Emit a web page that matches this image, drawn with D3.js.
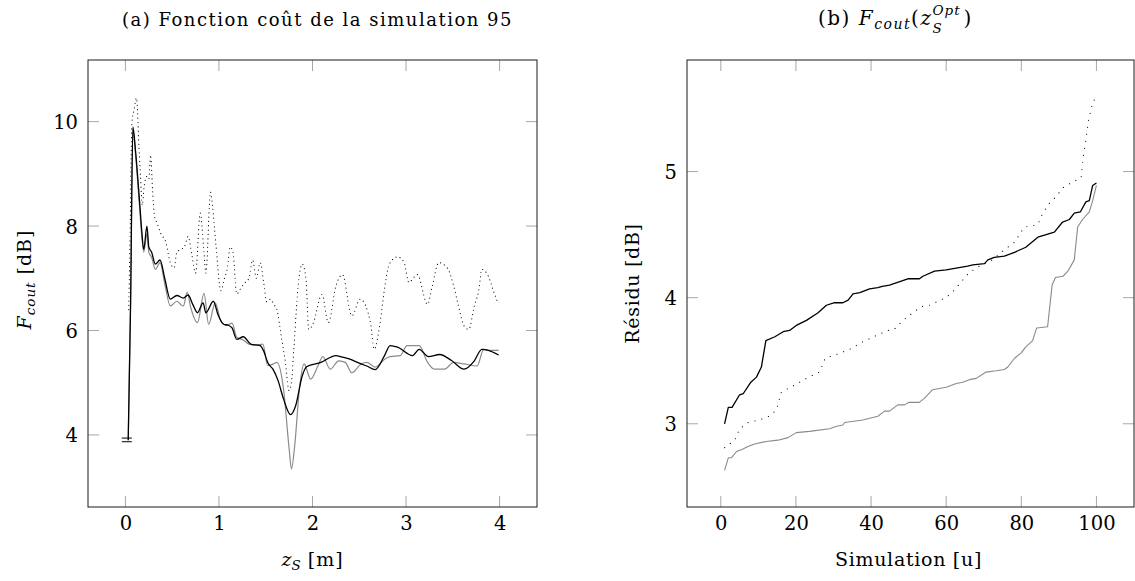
<!DOCTYPE html>
<html><head><meta charset="utf-8">
<script src="https://cdn.jsdelivr.net/npm/d3@7"></script>
<style>
body{margin:0;background:#fff;}
svg{display:block;}
text{font-family:"DejaVu Serif","Liberation Serif",serif;fill:#000;}
</style></head>
<body>
<svg id="chart" width="1135" height="581"></svg>
<script>
// ---------- Panel (a): cost function of simulation 95 ----------
const zBlack = [0.03,0.055,0.08,0.107,0.15,0.175,0.196,0.23,0.25,0.28,0.32,0.37,0.42,0.48,0.55,0.62,0.67,0.72,0.77,0.83,0.86,0.94,0.99,1.05,1.1,1.14,1.19,1.26,1.34,1.44,1.48,1.52,1.58,1.63,1.69,1.765,1.82,1.89,1.94,2.09,2.25,2.32,2.4,2.48,2.58,2.67,2.77,2.83,2.91,3.07,3.14,3.24,3.36,3.49,3.62,3.73,3.81,3.88,3.99];
const vBlack = [3.9,6.5,9.9,9.46,8.5,7.9,7.55,8.0,7.6,7.5,7.27,7.35,7.0,6.6,6.67,6.62,6.68,6.5,6.34,6.53,6.34,6.56,6.3,6.12,6.1,6.05,5.83,5.88,5.74,5.71,5.6,5.39,5.25,5.05,4.69,4.39,4.56,5.13,5.31,5.39,5.52,5.49,5.45,5.39,5.32,5.25,5.52,5.71,5.68,5.52,5.64,5.5,5.54,5.42,5.26,5.42,5.64,5.62,5.53];

const zGray = [0.03,0.055,0.08,0.107,0.15,0.196,0.23,0.25,0.28,0.32,0.37,0.42,0.48,0.55,0.59,0.62,0.66,0.70,0.77,0.84,0.89,0.96,1.02,1.08,1.14,1.19,1.26,1.32,1.40,1.47,1.52,1.58,1.62,1.69,1.75,1.775,1.81,1.86,1.91,1.98,2.06,2.11,2.19,2.28,2.35,2.42,2.52,2.58,2.67,2.78,2.83,2.94,3.01,3.14,3.23,3.30,3.41,3.51,3.62,3.76,3.83,3.90,3.99];
const vGray = [3.9,6.5,9.85,9.4,8.4,7.5,7.85,7.5,7.4,7.17,7.3,6.9,6.47,6.56,6.5,6.47,6.73,6.43,6.15,6.71,6.12,6.53,6.18,6.1,6.14,5.87,5.82,5.74,5.72,5.74,5.33,5.36,5.39,4.88,3.74,3.35,3.8,4.88,5.36,5.07,5.33,5.5,5.26,5.42,5.39,5.19,5.36,5.39,5.30,5.46,5.5,5.52,5.71,5.71,5.39,5.26,5.26,5.39,5.36,5.32,5.64,5.62,5.62];

const zDot = [0.035,0.05,0.07,0.09,0.118,0.13,0.14,0.16,0.18,0.2,0.23,0.25,0.27,0.29,0.31,0.34,0.38,0.43,0.48,0.52,0.55,0.59,0.63,0.67,0.71,0.75,0.8,0.84,0.86,0.91,0.93,0.97,1.02,1.06,1.09,1.12,1.15,1.19,1.23,1.27,1.32,1.36,1.40,1.44,1.48,1.51,1.55,1.59,1.62,1.66,1.71,1.75,1.78,1.8,1.85,1.89,1.93,1.96,2.01,2.1,2.17,2.25,2.32,2.42,2.51,2.62,2.66,2.71,2.78,2.82,2.91,2.98,3.03,3.12,3.23,3.28,3.35,3.44,3.51,3.56,3.62,3.67,3.73,3.78,3.81,3.88,3.94,3.975];
const vDot = [6.4,7.8,10.0,10.2,10.45,10.2,9.7,9.0,8.4,8.75,8.95,8.9,9.36,8.7,8.2,8.05,7.85,7.7,7.3,7.2,7.5,7.55,7.6,7.8,7.45,7.1,8.25,7.5,7.1,8.65,8.4,7.6,6.76,7.0,7.2,7.6,7.5,6.7,6.8,6.9,7.0,7.35,7.0,7.3,6.9,6.55,6.6,6.49,6.4,5.96,5.39,4.85,5.1,5.64,6.92,7.27,7.0,6.02,6.15,6.69,6.15,6.85,7.07,6.28,6.6,6.15,5.64,6.0,6.92,7.27,7.41,7.3,6.92,7.07,6.5,6.85,7.3,7.2,6.85,6.47,6.09,6.02,6.47,6.79,7.17,7.04,6.73,6.56];

const startBarsZ = 0.015;
const startBarsV = [3.87, 3.94];

const xTicksA = [0,1,2,3,4];
const yTicksA = [4,6,8,10];

// ---------- Panel (b): F_cout(z_S^Opt) over simulations ----------
const sBlack = [1,2,3,5,6,8,9.5,10.8,12,14.4,16.6,18.3,20.1,22.8,25.9,28.1,30.3,32.5,33.9,35.2,37,39.6,41.8,43,44.9,49.8,52.9,53.8,56.9,60,65.7,67.1,70.2,71.1,72.8,75.5,78.2,81.2,84.4,86.6,88.8,91,92.8,94.1,95.7,97.2,98.1,99,100];
const rBlack = [3.0,3.13,3.13,3.23,3.24,3.33,3.37,3.45,3.66,3.69,3.73,3.74,3.78,3.82,3.88,3.94,3.96,3.96,3.98,4.03,4.04,4.07,4.08,4.09,4.10,4.15,4.15,4.17,4.21,4.22,4.25,4.26,4.27,4.30,4.32,4.33,4.36,4.40,4.48,4.50,4.52,4.60,4.62,4.67,4.68,4.76,4.77,4.89,4.91];

const sDot = [1,3.7,5,7.3,10.3,12.9,14.8,16.1,19.2,22.8,26.3,27.8,30.8,34.3,37.8,41.4,44.5,46.2,48.5,51.1,53.4,55.6,58.3,60,62.2,64.4,66.2,68.8,72.3,75.5,78.2,80.8,83,84.4,85.7,87.5,89.2,91,93.2,95.9,96.5,97.2,97.9,99.1,100];
const rDot = [2.81,2.87,2.96,3.01,3.03,3.06,3.11,3.25,3.3,3.36,3.41,3.52,3.55,3.59,3.65,3.70,3.74,3.75,3.82,3.88,3.93,3.94,3.98,4.0,4.06,4.14,4.2,4.25,4.30,4.38,4.44,4.56,4.57,4.58,4.67,4.75,4.80,4.87,4.91,4.95,5.12,5.25,5.41,5.56,5.58];

const sGray = [1,2,2.8,4.2,5.9,7.2,9,12.1,15.2,17.9,20.1,23.6,29,30.8,32.5,33,37.8,41.8,43.6,44.9,47.1,48.9,50.1,52.8,54.1,56.4,60,62.7,64.4,66.2,68,70.6,73.3,75.5,76.4,78.2,79.9,81.2,83,84.1,87,88.2,89.1,91.1,92.4,94.1,95,96.3,98.1,99,100];
const rGray = [2.63,2.73,2.73,2.78,2.8,2.82,2.84,2.86,2.87,2.89,2.93,2.94,2.96,2.98,2.99,3.01,3.03,3.06,3.10,3.10,3.15,3.15,3.17,3.17,3.2,3.27,3.29,3.32,3.33,3.35,3.36,3.41,3.42,3.43,3.45,3.52,3.56,3.61,3.66,3.76,3.77,4.10,4.16,4.17,4.21,4.30,4.56,4.62,4.68,4.77,4.89];

const xTicksB = [0,20,40,60,80,100];
const yTicksB = [3,4,5];

// ---------- Drawing ----------
const svg = d3.select("#chart");
const TICK = 11;
const FS = 19.5;      // tick labels
const LFS = 19;       // axis labels
const TFS = 18;       // titles

function panel(cfg){
  const g = svg.append("g");
  const x = d3.scaleLinear().domain(cfg.xDomain).range([cfg.left, cfg.right]);
  const y = d3.scaleLinear().domain(cfg.yDomain).range([cfg.bottom, cfg.top]);

  const tk = g.append("g").attr("stroke","#a8a8a8").attr("stroke-width",1);
  cfg.xTicks.forEach(t=>{
    tk.append("line").attr("x1",x(t)).attr("x2",x(t)).attr("y1",cfg.bottom).attr("y2",cfg.bottom-TICK);
    tk.append("line").attr("x1",x(t)).attr("x2",x(t)).attr("y1",cfg.top).attr("y2",cfg.top+TICK);
  });
  cfg.yTicks.forEach(t=>{
    tk.append("line").attr("y1",y(t)).attr("y2",y(t)).attr("x1",cfg.left).attr("x2",cfg.left+TICK);
    tk.append("line").attr("y1",y(t)).attr("y2",y(t)).attr("x1",cfg.right).attr("x2",cfg.right-TICK);
  });

  const ax = d3.axisBottom(x).tickValues(cfg.xTicks).tickSize(0).tickPadding(0).tickFormat(d3.format("d"));
  const gx = g.append("g").attr("transform",`translate(0,${cfg.bottom+22.5})`).call(ax);
  gx.select(".domain").remove();
  gx.selectAll("text").attr("font-size",FS).attr("font-family",'"DejaVu Serif",serif').attr("dy",0);
  const ay = d3.axisLeft(y).tickValues(cfg.yTicks).tickSize(0).tickPadding(0).tickFormat(d3.format("d"));
  const gy = g.append("g").attr("transform",`translate(${cfg.left-10},0)`).call(ay);
  gy.select(".domain").remove();
  gy.selectAll("text").attr("font-size",FS).attr("font-family",'"DejaVu Serif",serif').attr("dy","0.36em");

  const clipId = "clip"+cfg.id;
  svg.append("clipPath").attr("id",clipId).append("rect")
     .attr("x",cfg.left).attr("y",cfg.top).attr("width",cfg.right-cfg.left).attr("height",cfg.bottom-cfg.top);
  const sg = g.append("g").attr("clip-path",`url(#${clipId})`);
  cfg.series.forEach(s=>{
    const pts = s.xs.map((v,i)=>[v,s.ys[i]]);
    const line = d3.line().x(d=>x(d[0])).y(d=>y(d[1])).curve(s.curve||d3.curveLinear);
    sg.append("path").datum(pts).attr("d",line).attr("fill","none")
      .attr("stroke",s.color).attr("stroke-width",s.width)
      .attr("stroke-linejoin","round")
      .attr("stroke-linecap",s.dash?"round":"butt")
      .attr("stroke-dasharray",s.dash||null);
  });

  g.append("rect").attr("x",cfg.left).attr("y",cfg.top).attr("width",cfg.right-cfg.left).attr("height",cfg.bottom-cfg.top)
   .attr("fill","none").attr("stroke","#1a1a1a").attr("stroke-width",1);
  return {g,x,y};
}

// Panel (a)
const A = panel({id:"a", left:88, right:537, top:60, bottom:507,
  xDomain:[-0.4,4.4], yDomain:[2.62,11.18], xTicks:xTicksA, yTicks:yTicksA,
  series:[
    {xs:zDot, ys:vDot, color:"#000", width:1.1, dash:"0.1 4.2", curve:d3.curveMonotoneX},
    {xs:zGray, ys:vGray, color:"#8a8a8a", width:1.2, curve:d3.curveMonotoneX},
    {xs:zBlack, ys:vBlack, color:"#000", width:1.3, curve:d3.curveMonotoneX}
  ]});
startBarsV.forEach(v=>{
  A.g.append("line").attr("x1",A.x(startBarsZ)-5).attr("x2",A.x(startBarsZ)+5)
    .attr("y1",A.y(v)).attr("y2",A.y(v)).attr("stroke","#000").attr("stroke-width",1);
});

// Panel (b)
const B = panel({id:"b", left:687, right:1134, top:60, bottom:507,
  xDomain:[-9,110], yDomain:[2.34,5.885], xTicks:xTicksB, yTicks:yTicksB,
  series:[
    {xs:sDot, ys:rDot, color:"#000", width:1.1, dash:"0.1 7"},
    {xs:sGray, ys:rGray, color:"#8a8a8a", width:1.1},
    {xs:sBlack, ys:rBlack, color:"#000", width:1.3}
  ]});

// ---------- Titles & labels ----------
const midA = (88+537)/2, midB = (687+1134)/2;
svg.append("text").attr("x",midA+5).attr("y",26).attr("text-anchor","middle").attr("font-size",TFS)
   .attr("letter-spacing",1.5)
   .text("(a) Fonction coût de la simulation 95");

const tb = svg.append("text").attr("x",818).attr("y",25).attr("font-size",20).attr("letter-spacing",1.5);
tb.append("tspan").text("(b) ");
tb.append("tspan").attr("font-style","italic").text("F");
tb.append("tspan").attr("font-style","italic").attr("font-size",14).attr("dy",4).text("cout");
tb.append("tspan").attr("dy",-4).text("(");
tb.append("tspan").attr("font-style","italic").text("z");
const tbBox = tb.node().getBBox();
const tbEnd = tbBox.x + tbBox.width;
svg.append("text").attr("x",tbEnd).attr("y",32.5).attr("font-size",13.5).attr("font-style","italic").text("S");
const sup = svg.append("text").attr("x",tbEnd).attr("y",15).attr("font-size",13.5).attr("font-style","italic")
   .attr("letter-spacing",1).text("Opt");
const supEnd = sup.node().getBBox().x + sup.node().getBBox().width;
svg.append("text").attr("x",supEnd+3).attr("y",25).attr("font-size",20).text(")");

const xl = svg.append("text").attr("x",midA).attr("y",566).attr("text-anchor","middle").attr("font-size",LFS);
xl.append("tspan").attr("font-style","italic").text("z");
xl.append("tspan").attr("font-style","italic").attr("font-size",13.5).attr("dy",4).text("S");
xl.append("tspan").attr("dy",-4).attr("letter-spacing",1).text(" [m]");

svg.append("text").attr("x",midB-2).attr("y",566).attr("text-anchor","middle").attr("font-size",LFS)
   .attr("letter-spacing",0.7).text("Simulation [u]");

const yl = svg.append("text").attr("transform",`translate(31,${(60+507)/2-4}) rotate(-90)`)
   .attr("text-anchor","middle").attr("font-size",LFS);
yl.append("tspan").attr("font-style","italic").attr("letter-spacing",1).text("F");
yl.append("tspan").attr("font-style","italic").attr("font-size",13.5).attr("dy",4).attr("letter-spacing",1).text("cout");
yl.append("tspan").attr("dy",-4).attr("letter-spacing",1).text(" [dB]");

svg.append("text").attr("transform",`translate(639,${(60+507)/2}) rotate(-90)`)
   .attr("text-anchor","middle").attr("font-size",LFS).attr("letter-spacing",0.7).text("Résidu [dB]");
</script>
</body></html>
